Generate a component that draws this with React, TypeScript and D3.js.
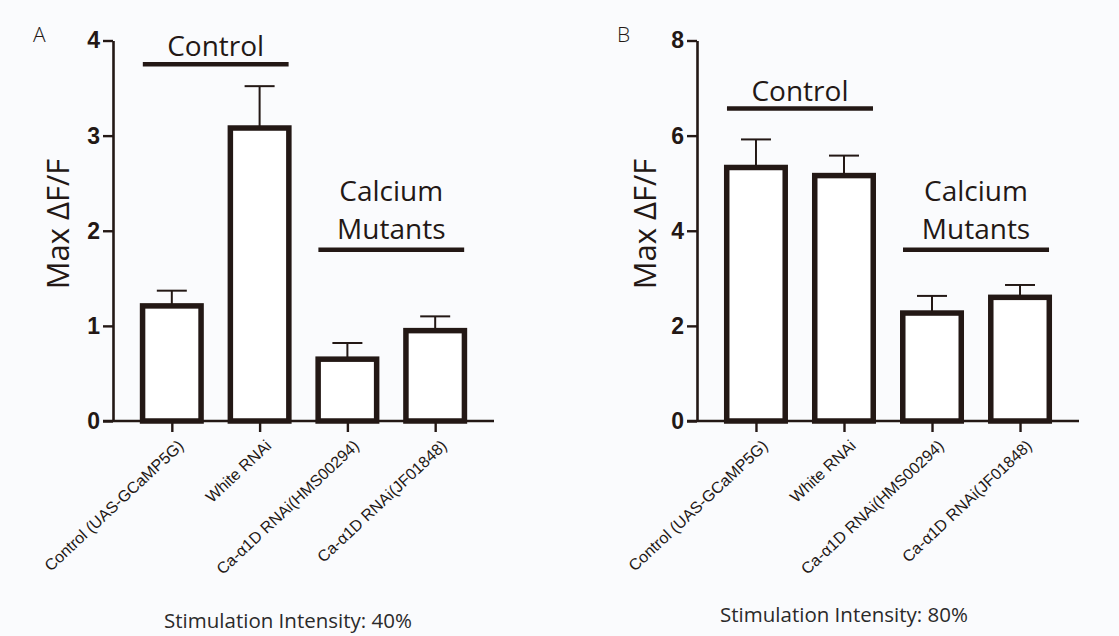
import React, { useRef, useEffect } from 'react';
import * as d3 from 'd3';

// categories shared by both panels
const categories = [
  "Control (UAS-GCaMP5G)",
  "White RNAi",
  "Ca-\u03b11D RNAi(HMS00294)",
  "Ca-\u03b11D RNAi(JF01848)",
];

// panel A: stimulation 40%
const meansA = [1.21, 3.08, 0.65, 0.95];
const errA = [0.16, 0.44, 0.17, 0.15];
const ticksA = [0, 1, 2, 3, 4];

// panel B: stimulation 80%
const meansB = [5.33, 5.16, 2.27, 2.6];
const errB = [0.59, 0.42, 0.36, 0.26];
const ticksB = [0, 2, 4, 6, 8];

// group brackets: [label lines, first bar, last bar, level in data units]
const groupsA = [
  { lines: ["Control"], from: 0, to: 1, level: 3.75 },
  { lines: ["Calcium", "Mutants"], from: 2, to: 3, level: 1.8 },
];
const groupsB = [
  { lines: ["Control"], from: 0, to: 1, level: 6.57 },
  { lines: ["Calcium", "Mutants"], from: 2, to: 3, level: 3.6 },
];

const INK = "#231815";
const SANS = "'Open Sans', 'Noto Sans', sans-serif";
const ARIAL = "'Liberation Sans', Arial, sans-serif";

const App = () => {
  const svgRef = useRef();
  const width = 1119;
  const height = 636;

  useEffect(() => {
    const svg = d3.select(svgRef.current);
    svg.selectAll("*").remove();

    svg.append("rect")
      .attr("width", width)
      .attr("height", height)
      .attr("fill", "#fafbfd");

    const drawPanel = (opts) => {
      const { letter, means, errs, ticks, groups, left, right, caption, captionX, captionY, titleX } = opts;
      const top = 40.5, bottom = 421;

      const y = d3.scaleLinear().domain([0, d3.max(ticks)]).range([bottom, top]);
      const x = d3.scalePoint().domain(categories).range([left, right]).padding(0.67);

      const g = svg.append("g");

      // y axis
      const yAxis = g.append("g")
        .attr("transform", `translate(${left},0)`)
        .call(d3.axisLeft(y).tickValues(ticks).tickFormat(d3.format("d"))
          .tickSize(10).tickSizeOuter(0).tickPadding(3));
      yAxis.select(".domain").attr("stroke", INK).attr("stroke-width", 2.6);
      yAxis.selectAll(".tick line").attr("stroke", INK).attr("stroke-width", 2.4);
      yAxis.selectAll(".tick text")
        .attr("fill", INK)
        .style("font-family", ARIAL)
        .style("font-weight", "bold")
        .style("font-size", "23px");

      // x axis
      const xAxis = g.append("g")
        .attr("transform", `translate(0,${bottom})`)
        .call(d3.axisBottom(x).tickSize(11).tickSizeOuter(0).tickFormat(() => ""));
      xAxis.select(".domain").attr("stroke", INK).attr("stroke-width", 2.6)
        .attr("d", `M${left - 10},0H${right}`);
      xAxis.selectAll(".tick line").attr("stroke", INK).attr("stroke-width", 2.4);

      // rotated category labels
      g.selectAll(".cat")
        .data(categories)
        .join("text")
        .attr("transform", d => `translate(${x(d) + 9},${bottom + 22}) rotate(-43)`)
        .attr("text-anchor", "end")
        .attr("dy", "0.35em")
        .attr("fill", INK)
        .style("font-family", ARIAL)
        .style("font-size", "16px")
        .text(d => d);

      // error bars (upper only)
      const capW = 30;
      categories.forEach((c, i) => {
        const cx = x(c);
        g.append("line")
          .attr("x1", cx).attr("x2", cx)
          .attr("y1", y(means[i])).attr("y2", y(means[i] + errs[i]))
          .attr("stroke", INK).attr("stroke-width", 2);
        g.append("line")
          .attr("x1", cx - capW / 2).attr("x2", cx + capW / 2)
          .attr("y1", y(means[i] + errs[i])).attr("y2", y(means[i] + errs[i]))
          .attr("stroke", INK).attr("stroke-width", 2);
      });

      // bars
      const barW = 58.5;
      g.selectAll(".bar")
        .data(means)
        .join("rect")
        .attr("x", (d, i) => x(categories[i]) - barW / 2)
        .attr("y", d => y(d))
        .attr("width", barW)
        .attr("height", d => bottom - y(d))
        .attr("fill", "#ffffff")
        .attr("stroke", INK)
        .attr("stroke-width", 5.5);

      // group brackets and labels
      groups.forEach(grp => {
        const x1 = x(categories[grp.from]) - 29;
        const x2 = x(categories[grp.to]) + 29;
        const ly = y(grp.level);
        g.append("line")
          .attr("x1", x1).attr("x2", x2)
          .attr("y1", ly).attr("y2", ly)
          .attr("stroke", INK).attr("stroke-width", 4.5);
        const n = grp.lines.length;
        grp.lines.forEach((t, k) => {
          g.append("text")
            .attr("x", (x1 + x2) / 2)
            .attr("y", ly - (n === 1 ? 8 : 11) - (n - 1 - k) * 38)
            .attr("text-anchor", "middle")
            .attr("fill", INK)
            .style("font-family", SANS)
            .style("font-size", "28px")
            .text(t);
        });
      });

      // y title
      g.append("text")
        .attr("transform", `translate(${titleX},224) rotate(-90)`)
        .attr("text-anchor", "middle")
        .attr("fill", INK)
        .style("font-family", SANS)
        .style("font-size", "31px")
        .text("Max \u0394F/F");

      // panel letter
      g.append("text")
        .attr("x", left - 80)
        .attr("y", 42)
        .attr("fill", INK)
        .style("font-family", SANS)
        .style("font-weight", 300)
        .style("font-size", "21px")
        .text(letter);

      // caption
      g.append("text")
        .attr("x", captionX)
        .attr("y", captionY)
        .attr("text-anchor", "middle")
        .attr("fill", "#2a2a2a")
        .style("font-family", SANS)
        .style("font-size", "20.5px")
        .text(caption);
    };

    drawPanel({
      letter: "A", means: meansA, errs: errA, ticks: ticksA, groups: groupsA,
      left: 113, right: 494, caption: "Stimulation Intensity: 40%",
      captionX: 288, captionY: 628, titleX: 69,
    });
    drawPanel({
      letter: "B", means: meansB, errs: errB, ticks: ticksB, groups: groupsB,
      left: 697, right: 1079, caption: "Stimulation Intensity: 80%",
      captionX: 844, captionY: 622, titleX: 656,
    });
  }, []);

  return (
    <svg
      ref={svgRef}
      width={width}
      height={height}
      style={{ position: "absolute", left: 0, top: 0 }}
    ></svg>
  );
};

export default App;
